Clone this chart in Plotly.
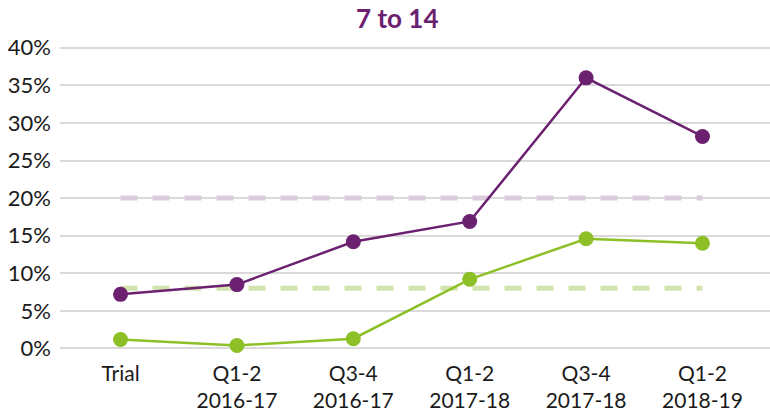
import plotly.graph_objects as go

categories = ["Trial", "Q1-2<br>2016-17", "Q3-4<br>2016-17", "Q1-2<br>2017-18", "Q3-4<br>2017-18", "Q1-2<br>2018-19"]
purple_values = [7.2, 8.5, 14.2, 16.9, 36.0, 28.2]
green_values = [1.2, 0.4, 1.3, 9.2, 14.6, 14.0]
purple_target = [20, 20, 20, 20, 20, 20]
green_target = [8, 8, 8, 8, 8, 8]
y_ticks = [0, 5, 10, 15, 20, 25, 30, 35, 40]
y_tick_labels = [f"{v}%" for v in y_ticks]

PURPLE = "#6b2170"
GREEN = "#8dbf27"
PURPLE_LIGHT = "#dccbdd"
GREEN_LIGHT = "#d3e3ae"

fig = go.Figure()
fig.add_trace(go.Scatter(x=categories, y=purple_target, mode="lines",
                         line=dict(color=PURPLE_LIGHT, width=5, dash="17px,15px"),
                         hoverinfo="skip", showlegend=False))
fig.add_trace(go.Scatter(x=categories, y=green_target, mode="lines",
                         line=dict(color=GREEN_LIGHT, width=5, dash="17px,15px"),
                         hoverinfo="skip", showlegend=False))
fig.add_trace(go.Scatter(x=categories, y=purple_values, mode="lines+markers",
                         line=dict(color=PURPLE, width=2.5),
                         marker=dict(color=PURPLE, size=15), showlegend=False))
fig.add_trace(go.Scatter(x=categories, y=green_values, mode="lines+markers",
                         line=dict(color=GREEN, width=2.5),
                         marker=dict(color=GREEN, size=15), showlegend=False))

fig.update_layout(
    width=770, height=411,
    margin=dict(l=60, r=0, t=44, b=55),
    paper_bgcolor="white", plot_bgcolor="white",
    font=dict(family="Lato", size=21, color="#1a1a1a"),
    title=dict(text="<b>7 to 14</b>", x=0.516, xanchor="center", y=0.955, yanchor="middle",
               font=dict(family="Lato", size=26, color=PURPLE)),
    xaxis=dict(type="category", range=[-0.52, 5.58], showgrid=False, zeroline=False,
               showline=False, ticks="", automargin=False, ticklabelstandoff=3,
               tickfont=dict(size=21)),
    yaxis=dict(range=[-1, 40.5], tickvals=y_ticks, ticktext=y_tick_labels,
               showgrid=True, gridcolor="#d9d9d9", gridwidth=1.5, zeroline=False,
               showline=False, ticks="", automargin=False, ticklabelstandoff=8,
               tickfont=dict(size=22)),
)

fig.write_html("out.html", config={"displayModeBar": False},
               post_script="document.body.style.margin='0';document.body.style.overflow='hidden';")
